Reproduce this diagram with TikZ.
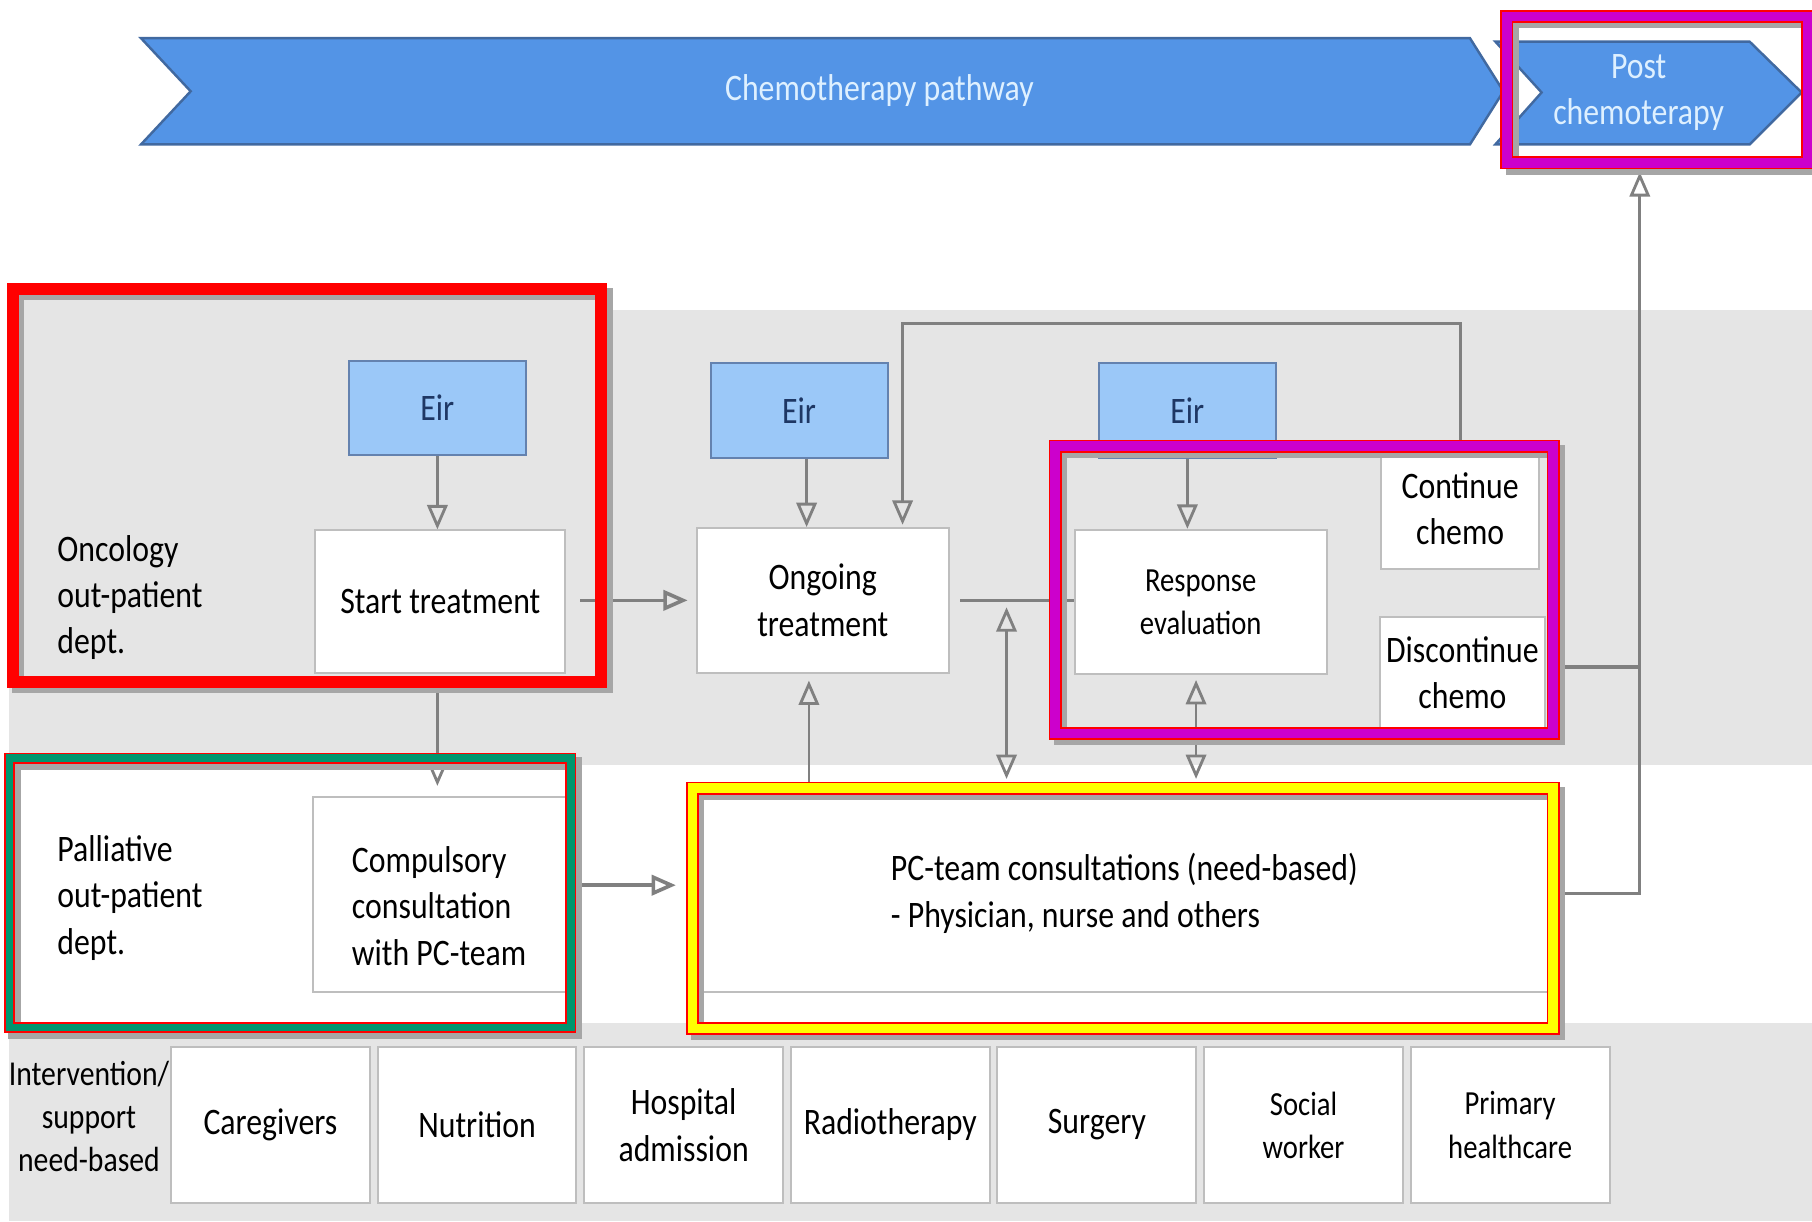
\documentclass[tikz,border=0pt]{standalone}
\usepackage{fontspec}
\setmainfont{Carlito}[FakeStretch=0.85]
\usetikzlibrary{arrows.meta,positioning}
\definecolor{bandgrey}{RGB}{229,229,229}
\definecolor{chevfill}{RGB}{83,148,230}
\definecolor{chevline}{RGB}{65,105,160}
\definecolor{chevtext}{RGB}{222,240,255}
\definecolor{eirfill}{RGB}{155,200,248}
\definecolor{eirline}{RGB}{100,130,175}
\definecolor{eirtext}{RGB}{30,55,100}
\definecolor{boxline}{RGB}{190,190,190}
\definecolor{conngrey}{RGB}{128,128,128}
\definecolor{hlmagenta}{RGB}{204,0,204}
\definecolor{hlgreen}{RGB}{0,150,110}
\definecolor{hlyellow}{RGB}{255,255,0}
\newcommand{\mainsz}{\fontsize{9.2}{11.4}\selectfont}
\newcommand{\smallsz}{\fontsize{8.3}{10.6}\selectfont}
\newcommand{\intsz}{\fontsize{8.6}{10.6}\selectfont}
\newcommand{\hlframe}[3]{\draw[shadowline] #2 rectangle #3; \draw[#1] #2 rectangle #3;}

\begin{document}
\begin{tikzpicture}[x=0.01cm, y=-0.01cm, every node/.style={font=\mainsz}, >={Triangle[open, length=6pt, width=5pt]}, box/.style={draw=boxline, fill=white, line width=0.5pt, align=center, inner sep=0pt}, eir/.style={draw=eirline, fill=eirfill, text=eirtext, line width=0.5pt, minimum width=1.53cm, minimum height=0.82cm, inner sep=0pt}, lab/.style={align=left, anchor=west, inner sep=0pt}, chev/.style={draw=chevline, fill=chevfill, line width=0.6pt}, conn/.style={draw=conngrey, line width=0.7pt}, shadowline/.style={draw=black!35, line width=3.1pt, xshift=1.3pt, yshift=-1.3pt}, redframe/.style={draw=red, line width=2.9pt}, magframe/.style={draw=red, line width=0.45pt, double=hlmagenta, double distance=2.3pt}, grnframe/.style={draw=red, line width=0.45pt, double=hlgreen, double distance=1.8pt}, ylwframe/.style={draw=red, line width=0.45pt, double=hlyellow, double distance=2.3pt}]
	\useasboundingbox (0,0) rectangle (1568,1057);
	\fill[bandgrey] (8,268) rectangle (1568,662);
	\fill[bandgrey] (14,255) rectangle (518,268);
	\fill[bandgrey] (8,885) rectangle (1568,1057);
	\draw[chev] (122,33) -- (1272,33) -- (1301,79) -- (1272,125) -- (122,125) -- (165,79) -- cycle;
	\node[text=chevtext] (chemo) at (761,78) {Chemotherapy pathway};
	\draw[chev] (1294,36) -- (1514,36) -- (1559,80) -- (1514,125) -- (1294,125) -- (1334,80) -- cycle;
	\node[text=chevtext, align=center] (post) at (1418,80) {Post\\chemoterapy};
	\coordinate (postin) at (1419,149);
	\node[lab] (onclab) at (49,517) {Oncology\\out-patient\\dept.};
	\node[lab] (pallab) at (49,777) {Palliative\\out-patient\\dept.};
	\node[align=center, inner sep=0pt, font=\intsz] (intlab) at (77,966) {Intervention/\\support\\need-based};
	\node[eir] (eirA) at (378.5,353) {Eir};
	\node[eir] (eirB) at (691.5,355) {Eir};
	\node[eir] (eirC) at (1027.5,355) {Eir};
	\node[box, minimum width=2.16cm, minimum height=1.23cm] (start) at (381,520.5) {Start treatment};
	\node[box, minimum width=2.18cm, minimum height=1.25cm] (ongoing) at (712,519.5) {Ongoing\\treatment};
	\node[box, minimum width=2.18cm, minimum height=1.25cm, font=\smallsz] (resp) at (1039,521) {Response\\evaluation};
	\node[box, minimum width=1.37cm, minimum height=1.04cm] (cont) at (1263.5,440) {Continue\\chemo};
	\node[box, minimum width=1.43cm, minimum height=0.96cm] (disc) at (1265.5,582) {Discontinue\\chemo};
	\node[box, minimum width=2.19cm, minimum height=1.68cm] (comp) at (380,774) {};
	\node[align=left, inner sep=0pt] (comptext) at ([yshift=-0.1cm]comp.center) {Compulsory\\consultation\\with PC-team};
	\node[box, minimum width=7.32cm, minimum height=1.70cm, align=left] (pc) at (973,773) {PC-team consultations (need-based)\\- Physician, nurse and others};
	\foreach \t/\f [count=\i from 0] in {Caregivers/\mainsz, Nutrition/\mainsz, Hospital\\admission/\mainsz, Radiotherapy/\mainsz, Surgery/\mainsz, Social\\worker/\smallsz, Primary\\healthcare/\smallsz}
		{\node[box, font=\f, minimum width=1.72cm, minimum height=1.35cm] (sup\i) at ({234+178.8*\i},973.5) {\t};}
	\draw[conn, ->] (eirA.south) -- (eirA.south |- start.north);
	\coordinate (eirBs) at ([xshift=0.065cm]eirB.south);
	\draw[conn, ->] (eirBs) -- (eirBs |- ongoing.north);
	\draw[conn, ->] (eirC.south) -- (eirC.south |- resp.north);
	\draw[conn, ->, line width=0.9pt, shorten <=0.12cm, shorten >=0.07cm] (start.east |- ongoing.west) -- (ongoing.west);
	\draw[conn, ->, shorten <=0.17cm, shorten >=0.09cm] (eirA.south |- start.south) -- (eirA.south |- comp.north);
	\coordinate (compE) at ([yshift=0.08cm]comp.east);
	\draw[conn, ->, line width=0.9pt, shorten <=0.12cm, shorten >=0.21cm] (compE) -- (compE -| pc.west);
	\coordinate (ongS) at ([xshift=-0.12cm]ongoing.south);
	\draw[conn, ->, shorten >=0.06cm] (ongS |- pc.north) -- (ongS);
	\coordinate (top) at (0,280);
	\coordinate (ongN) at ([xshift=0.69cm]ongoing.north);
	\draw[conn, ->, shorten >=0.02cm] (cont.north) -- (cont.north |- top) -| (ongN);
	\draw[conn, line width=0.9pt, shorten <=0.09cm] (ongoing.east) -- (ongoing.east -| resp.west);
	\coordinate (split) at (871,519.5);
	\draw[conn, <->, shorten <=0.06cm, shorten >=0.13cm] (split) -- (split |- pc.north);
	\coordinate (respS) at ([xshift=-0.04cm]resp.south);
	\draw[conn, <->, shorten <=0.04cm, shorten >=0.13cm] (respS) -- (respS |- pc.north);
	\coordinate (discE) at ([yshift=0.05cm]disc.east);
	\draw[conn, line width=0.9pt, shorten <=0.15cm] (discE) -- (discE -| postin);
	\draw[conn, ->] (pc.east) -| (postin);
	\hlframe{redframe}{(11,250)}{(520,590)}
	\hlframe{magframe}{(913,386)}{(1344,635)}
	\hlframe{grnframe}{(8,656)}{(494,889)}
	\hlframe{ylwframe}{(599,682)}{(1344,890)}
	\hlframe{magframe}{(1304,14)}{(1564,141)}
\end{tikzpicture}
\end{document}
